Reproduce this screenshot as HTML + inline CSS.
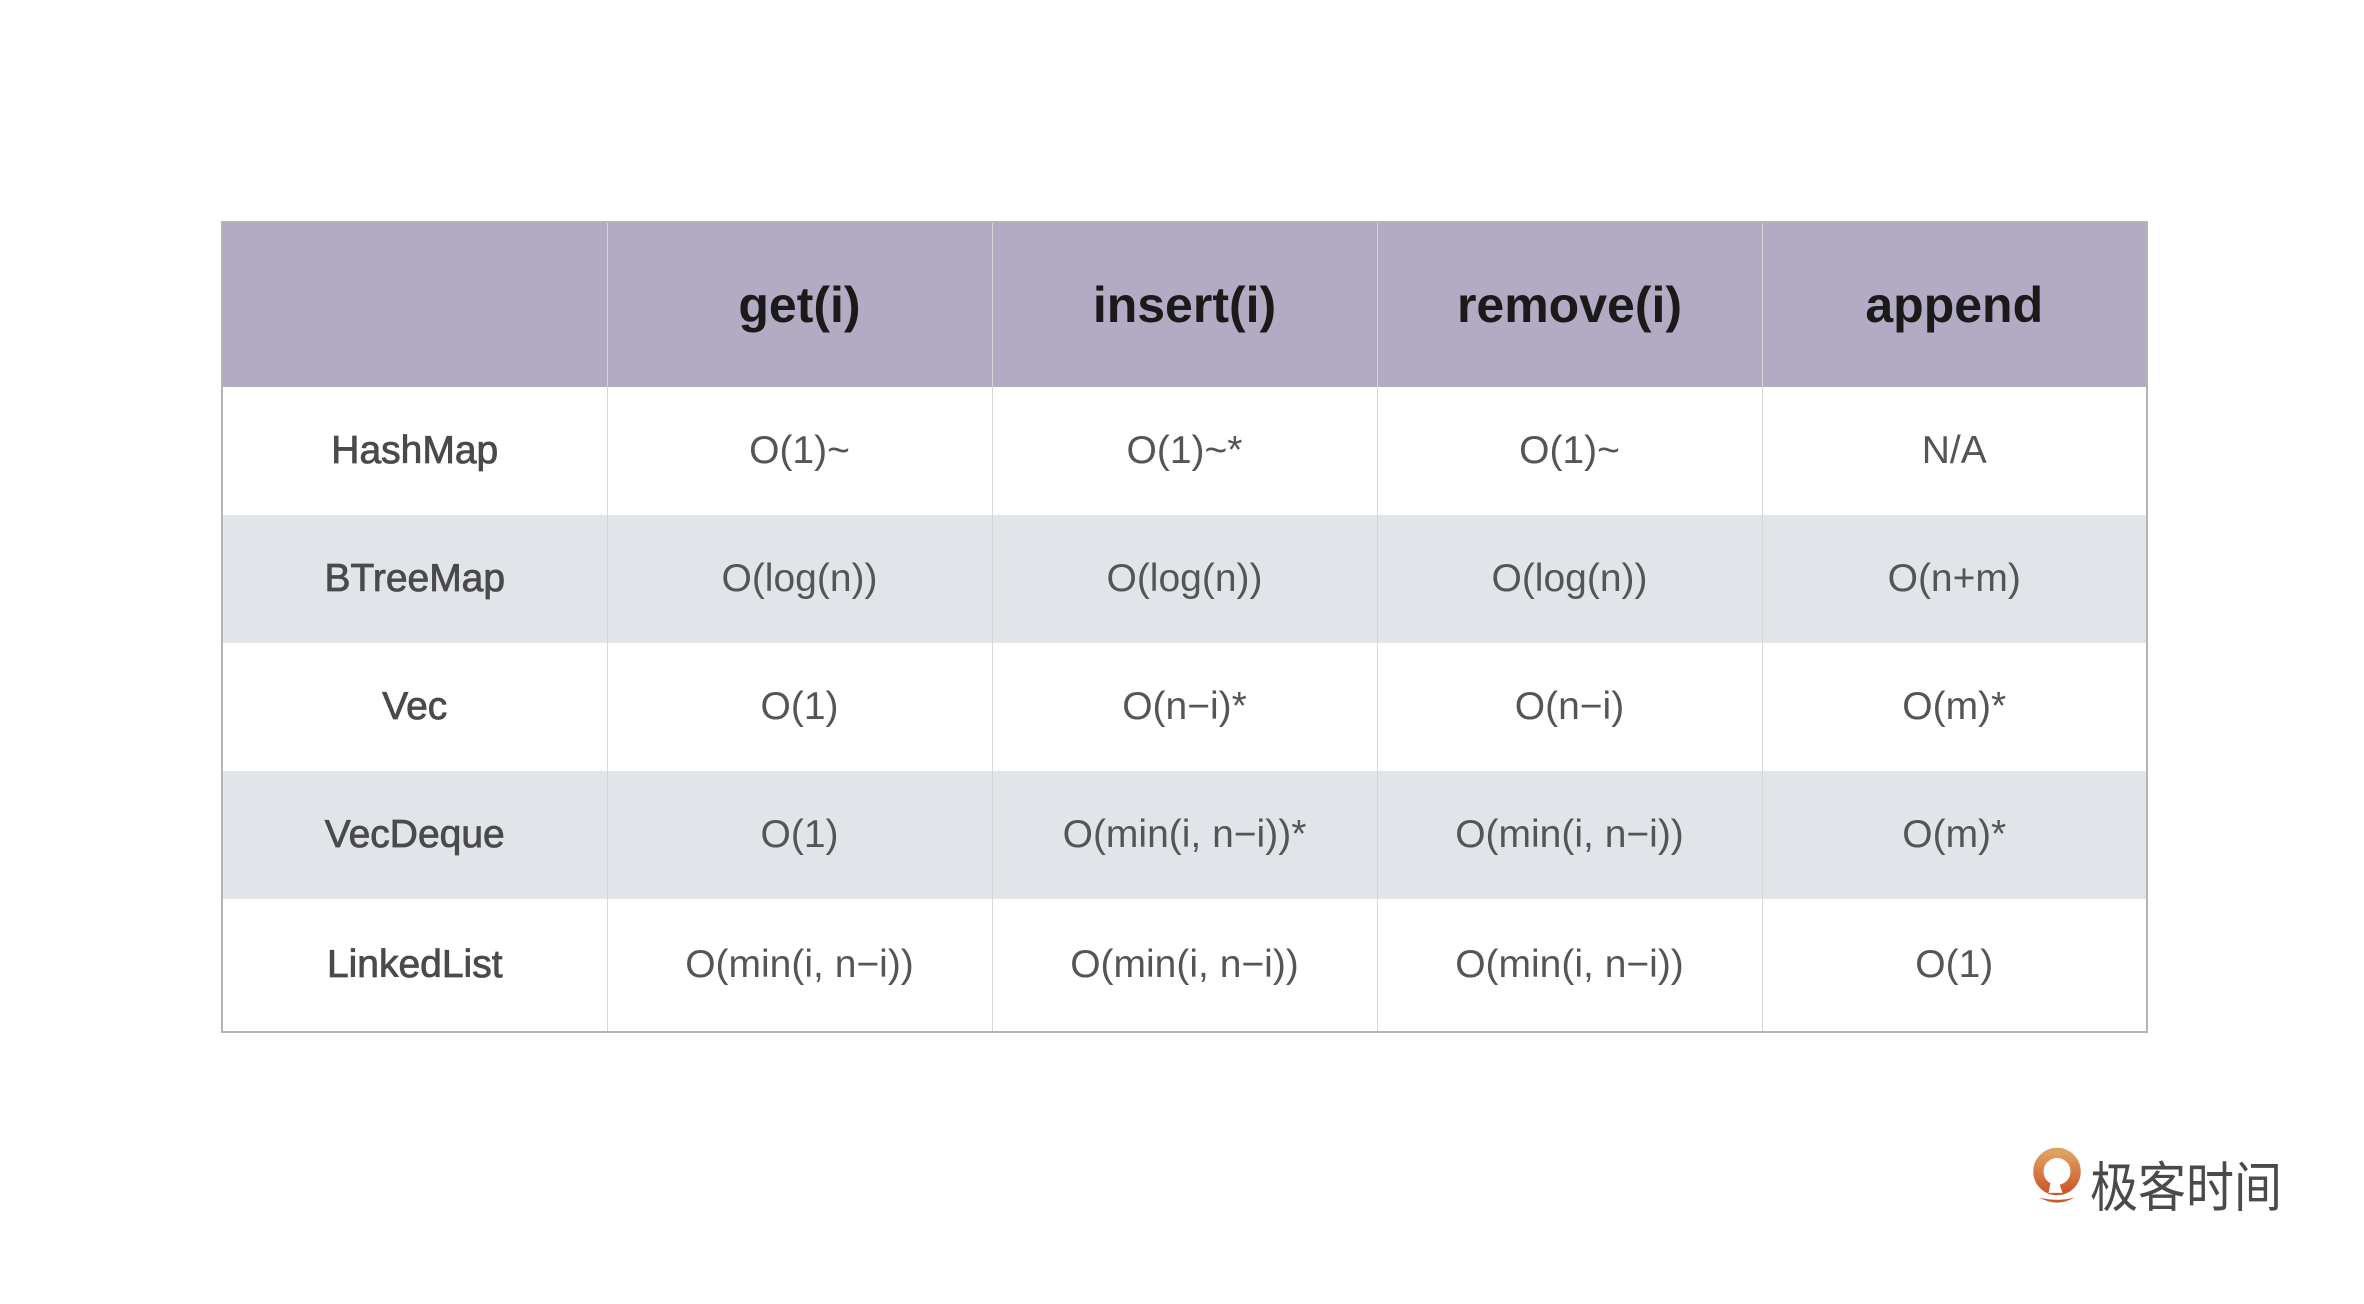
<!DOCTYPE html>
<html><head><meta charset="utf-8"><style>
html,body{margin:0;padding:0;background:#fff;}
body{width:2364px;height:1304px;position:relative;overflow:hidden;font-family:"Liberation Sans",sans-serif;}
table{position:absolute;left:221px;top:221px;width:1927px;border-collapse:collapse;table-layout:fixed;border:2px solid #b4b4b4;}
td,th{text-align:center;border-left:1px solid #d6d6d8;border-right:1px solid #d6d6d8;padding:0;}
th{background:#b2abc3;height:164px;font-size:50px;font-weight:bold;color:#1a1a1a;border-left:1px solid #aaa3bb;}
td{font-size:39px;color:#555;height:128px;}
tr.alt td{background:#e1e4e9;}
td.n{color:#4a4a4a;-webkit-text-stroke:0.8px #4a4a4a;}
.logo{position:absolute;left:2030px;top:1146px;}
.lt{position:absolute;left:2090px;top:1144px;font-family:"Liberation Sans","Noto Sans CJK SC",sans-serif;font-size:48px;color:#4a4a4a;transform:scaleY(1.12);transform-origin:top left;}
</style></head><body>
<table>
<tr><th></th><th>get(i)</th><th>insert(i)</th><th>remove(i)</th><th>append</th></tr>
<tr><td class="n">HashMap</td><td>O(1)~</td><td>O(1)~*</td><td>O(1)~</td><td>N/A</td></tr>
<tr class="alt"><td class="n">BTreeMap</td><td>O(log(n))</td><td>O(log(n))</td><td>O(log(n))</td><td>O(n+m)</td></tr>
<tr><td class="n">Vec</td><td>O(1)</td><td>O(n−i)*</td><td>O(n−i)</td><td>O(m)*</td></tr>
<tr class="alt"><td class="n">VecDeque</td><td>O(1)</td><td>O(min(i, n−i))*</td><td>O(min(i, n−i))</td><td>O(m)*</td></tr>
<tr><td class="n" style="height:132px">LinkedList</td><td>O(min(i, n−i))</td><td>O(min(i, n−i))</td><td>O(min(i, n−i))</td><td>O(1)</td></tr>
</table>
<svg class="logo" width="54" height="64" viewBox="0 0 58 68">
<defs><linearGradient id="g" x1="0" y1="0" x2="0" y2="1"><stop offset="0" stop-color="#e0a060"/><stop offset="1" stop-color="#cc5a2a"/></linearGradient></defs>
<circle cx="29" cy="27" r="20" fill="none" stroke="url(#g)" stroke-width="11"/>
<path d="M25 22 L35 50 L20 50 Z" fill="#fff"/>
<path d="M10 55 Q29 66 48 55 Q29 60 10 55 Z" fill="#cc5a2a"/>
</svg>
<div class="lt">极客时间</div>
</body></html>
